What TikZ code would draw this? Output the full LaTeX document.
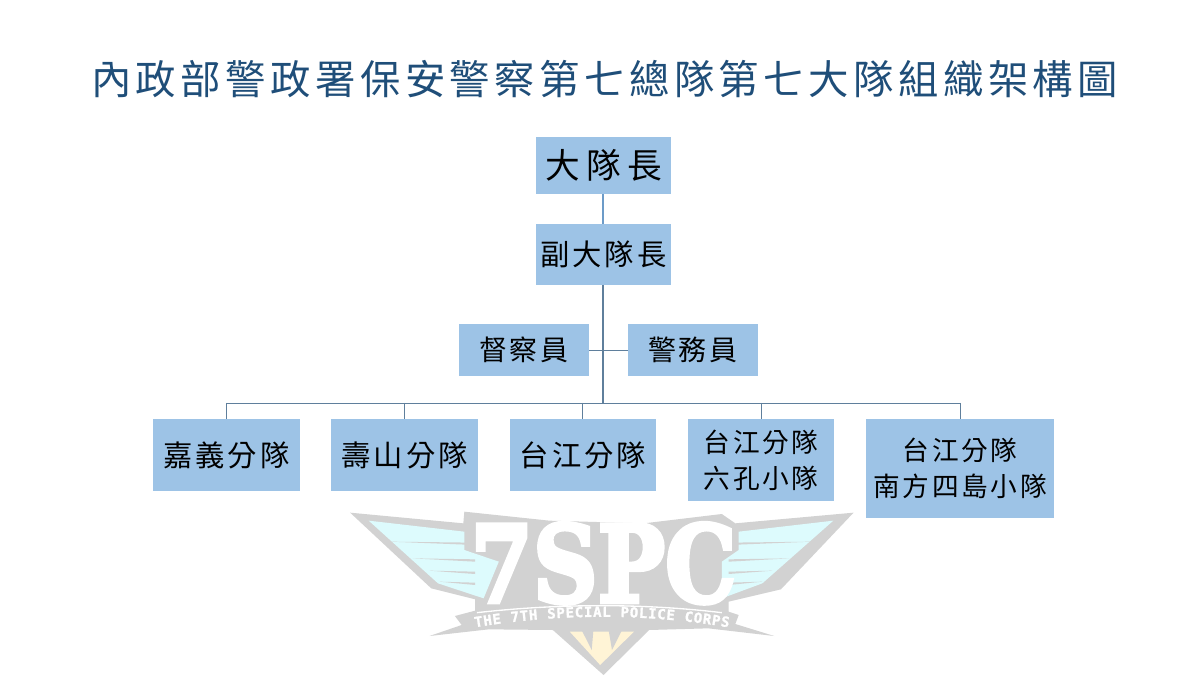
\documentclass[tikz,border=0pt]{standalone}
\usepackage{fontspec}
\usepackage{tikz}
\usetikzlibrary{positioning, decorations.text}
\setmainfont{Noto Sans CJK TC}
\newfontfamily\titlefont[LetterSpace=11]{Noto Sans CJK TC}
\newfontfamily\chieffont[LetterSpace=18]{Noto Sans CJK TC}
\newfontfamily\unitfont[LetterSpace=10]{Noto Sans CJK TC}
\newfontfamily\logofont[FakeBold=4]{DejaVu Serif}
\newfontfamily\bannerfont[FakeBold=1.5]{DejaVu Sans Mono}
\definecolor{boxblue}{HTML}{9DC3E6}
\definecolor{titleblue}{HTML}{1F4E79}
\definecolor{upperline}{HTML}{6C9BC8}
\definecolor{lowerline}{HTML}{5F7F9C}
\definecolor{logogray}{HTML}{D2D2D2}
\definecolor{logocyan}{HTML}{DDFBFD}
\definecolor{logoyellow}{HTML}{FFF4D6}
\tikzset{
    unitbox/.style={fill=boxblue, inner sep=0pt, outer sep=0pt, align=center, minimum width=110pt, minimum height=54pt, font=\unitfont\fontsize{22}{29}\selectfont},
    staffbox/.style={unitbox, minimum width=97.5pt, minimum height=39pt, font=\unitfont\fontsize{21}{29}\selectfont},
    twolinebox/.style={unitbox, font=\unitfont\fontsize{20}{27}\selectfont},
    topline/.style={draw=upperline, line width=1.5pt},
    treeline/.style={draw=lowerline, line width=1.5pt},
    thinline/.style={draw=lowerline, line width=.7pt},
}

\begin{document}
\begin{tikzpicture}
    \useasboundingbox (0,0) rectangle (900pt,-506.25pt);
    \fill[white] (0,0) rectangle (900pt,-506.25pt);

    \begin{scope}[shift={(255pt,-375pt)}, x=.2534pt, y=-.25pt]
        \fill[logogray] (30,38) -- (365,70) -- (368,35) -- (620,62) -- (900,70) -- (1130,42) -- (1170,70) -- (1520,38)
            -- (1305,268) -- (1150,305) -- (1150,335) -- (1180,345) -- (1170,372) -- (1285,408) -- (1090,385) -- (915,390)
            -- (780,525) -- (630,390) -- (440,388) -- (265,408) -- (360,375) -- (340,348) -- (400,332) -- (400,298) -- (270,265) -- cycle;
        \fill[logocyan] (85,62) -- (368,95) -- (368,150) -- (470,185) -- (425,295) -- (290,250) -- cycle;
        \fill[logocyan] (1460,62) -- (1180,95) -- (1180,150) -- (1130,185) -- (1130,295) -- (1250,250) -- cycle;
        \foreach \y/\x in {125/150, 175/215, 212/265, 245/295} {
            \fill[logogray] (\x,\y) -- (400,\y+10) -- (400,\y+3) -- cycle;
            \fill[logogray] (1545-\x,\y) -- (1150,\y+10) -- (1150,\y+3) -- cycle;
        }
        \fill[logoyellow] (680,395) -- (770,495) -- (870,395) -- cycle;
        \fill[logogray] (715,390) -- (745,450) -- (750,390) -- cycle;
        \fill[logogray] (795,390) -- (805,450) -- (835,390) -- cycle;
        \node[text=white, xscale=.84, inner sep=0pt] (logo) at (780,190) {\logofont\bfseries\fontsize{80}{80}\selectfont 7SPC};
        \draw[white, line width=1pt] (405,338) .. controls (650,310) and (900,310) .. (1130,338);
        \path[decorate, decoration={text along path, text color=white, text align=fit to path,
            text={|\bannerfont\bfseries\fontsize{10.5}{10.5}\selectfont|THE 7TH SPECIAL POLICE CORPS}}]
            (400,382) .. controls (650,340) and (900,340) .. (1150,382);
    \end{scope}

    \node[text=titleblue, inner sep=0pt, font=\titlefont\fontsize{30.3}{36}\selectfont] (title) at (453.5pt,-59pt) {內政部警政署保安警察第七總隊第七大隊組織架構圖};

    \node[unitbox, minimum width=101.25pt, minimum height=42.75pt, font=\chieffont\fontsize{26}{30}\selectfont] (chief) at (452.6pt,-124.1pt) {大隊長};
    \node[unitbox, minimum width=101.25pt, minimum height=45.75pt, below=22.5pt of chief] (deputy) {副大隊長};
    \coordinate[below=48.75pt of deputy] (staff joint);
    \coordinate[below=88.5pt of deputy] (bus);
    \node[staffbox, left=10.9pt of staff joint]  (inspector) {督察員};
    \node[staffbox, right=18.4pt of staff joint] (clerk)     {警務員};

    \node[unitbox, anchor=north west] (jiayi) at (114.75pt,-314.25pt) {嘉義分隊};
    \node[unitbox, right=23.7pt of jiayi.north east, anchor=north west]     (shoushan) {壽山分隊};
    \node[unitbox, right=23.7pt of shoushan.north east, anchor=north west]  (taijiang) {台江分隊};
    \node[twolinebox, minimum height=61.5pt, right=23.7pt of taijiang.north east, anchor=north west] (liukong) {台江分隊\\六孔小隊};
    \node[twolinebox, minimum width=141pt, minimum height=74.25pt, right=23.7pt of liukong.north east, anchor=north west] (nanfang) {台江分隊\\南方四島小隊};

    \draw[topline] (chief) -- (deputy);
    \draw[treeline] (deputy) -- (bus);
    \draw[thinline] (inspector) -- (clerk);
    \draw[thinline] (jiayi.north|-bus) -- (nanfang.north|-bus);
    \foreach \unit in {jiayi, shoushan, taijiang, liukong, nanfang}
        \draw[thinline] (\unit.north|-bus) -- (\unit);
\end{tikzpicture}
\end{document}
